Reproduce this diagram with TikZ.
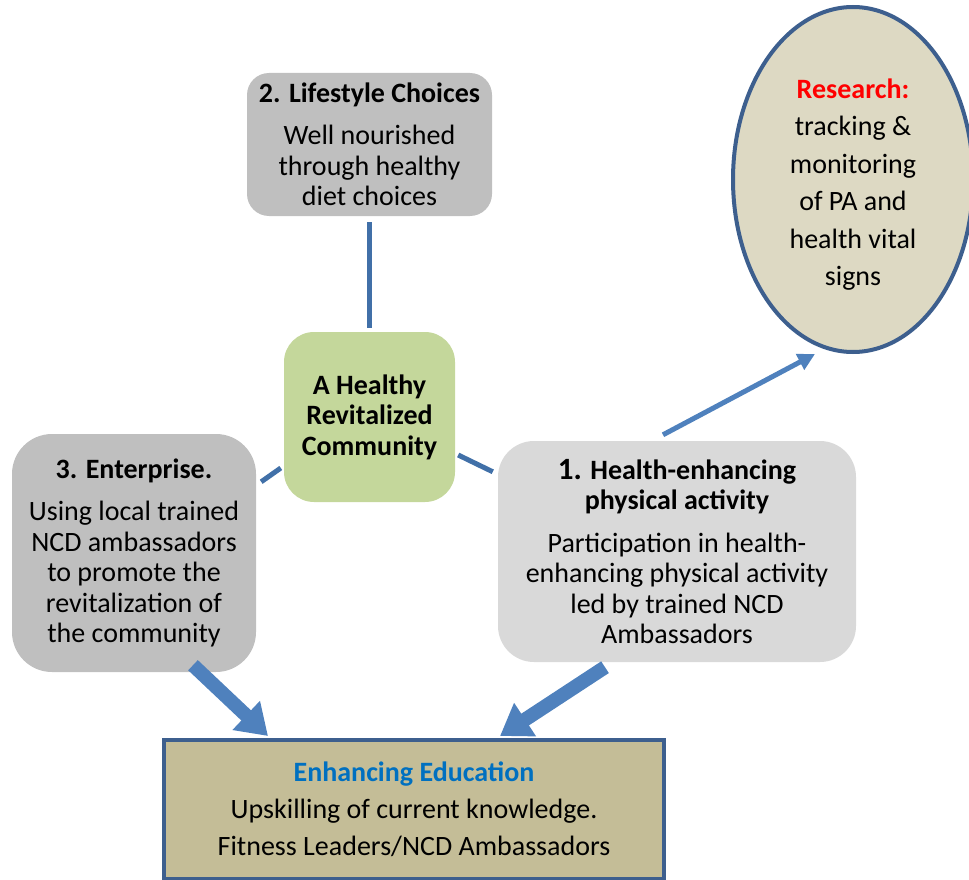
\documentclass[tikz,border=0pt]{standalone}
\usepackage{fontspec}
\setmainfont{Carlito}
\usetikzlibrary{arrows.meta,shapes.geometric}
\definecolor{linkblue}{HTML}{4170A8}
\definecolor{arrowblue}{HTML}{4F81BD}
\definecolor{edgeblue}{HTML}{3D5F8E}
\definecolor{boxgray}{HTML}{BFBFBF}
\definecolor{lightgray}{HTML}{D9D9D9}
\definecolor{hubgreen}{HTML}{C4D79B}
\definecolor{resbeige}{HTML}{DDD9C3}
\definecolor{edutan}{HTML}{C4BD97}
\definecolor{titleblue}{HTML}{0070C0}
\tikzset{
  card/.style={rounded corners=#1, align=center, inner sep=0pt,
    font=\fontsize{28}{30.5}\selectfont},
  link/.style={draw=linkblue, line width=5pt},
  thin arrow/.style={draw=arrowblue, line width=5pt,
    -{Triangle[length=17pt,width=17pt]}},
  fat arrow/.style={draw=arrowblue, line width=14pt,
    -{Triangle[length=30pt,width=38pt]}}
}
\begin{document}
\begin{tikzpicture}[x=1pt,y=-1pt]
        \useasboundingbox (0,0) rectangle (969,880);
        \def\gap{12pt}   % space under a title

        \node[card=22pt, fill=boxgray, minimum width=245pt, minimum height=143pt]
            (life) at (369.5,144.5)
            {\textbf{2. Lifestyle Choices}\\[\gap]Well nourished\\through healthy\\diet choices};
        \node[card=30pt, fill=hubgreen, minimum width=171pt, minimum height=170pt]
            (hub) at (369.5,417)
            {\textbf{A Healthy}\\\textbf{Revitalized}\\\textbf{Community}};
        \node[card=40pt, fill=boxgray, minimum width=244pt, minimum height=238pt]
            (ent) at (134,553)
            {\textbf{3. Enterprise.}\\[\gap]Using local trained\\NCD ambassadors\\to promote the\\revitalization of\\the community};
        \node[card=36pt, fill=lightgray, minimum width=358pt, minimum height=221pt]
            (pa) at (677,551.5)
            {\textbf{{\fontsize{31}{30.5}\selectfont 1.} Health-enhancing}\\\textbf{physical activity}\\[\gap]Participation in health-\\enhancing physical activity\\led by trained NCD\\Ambassadors};
        \node[ellipse, draw=edgeblue, line width=4pt, fill=resbeige,
            minimum width=240pt, minimum height=345pt, align=center, inner sep=0pt,
            font=\fontsize{28}{37.4}\selectfont]
            (res) at (853,179.5)
            {\rule{0pt}{30pt}\textcolor{red}{\textbf{Research:}}\\tracking \&\\monitoring\\of PA and\\health vital\\signs};
        \node[draw=edgeblue, line width=4pt, fill=edutan, minimum width=500pt,
            minimum height=139pt, align=center, inner sep=0pt,
            font=\fontsize{28}{37}\selectfont]
            (edu) at (414,809.5)
            {\textcolor{titleblue}{\textbf{Enhancing Education}}\\Upskilling of current knowledge.\\Fitness Leaders/NCD Ambassadors};

        % links to the hub
        \draw[link] ([yshift=-6pt]life.south) -- ([yshift=4pt]hub.north);
        \draw[link] ([xshift=5pt,yshift=-48pt]ent.north east)
            -- ([xshift=-3pt,yshift=-51pt]hub.west);
        \draw[link] ([xshift=3pt,yshift=-38pt]hub.east)
            -- ([xshift=-5pt,yshift=-31pt]pa.north west);

        % arrows
        \draw[thin arrow] ([xshift=-14pt,yshift=6pt]pa.north) -- ([xshift=-38pt]res.south);
        \draw[fat arrow] ([xshift=59pt,yshift=7pt]ent.south) -- ([xshift=106pt,yshift=2pt]edu.north west);
        \draw[fat arrow] ([xshift=-72pt,yshift=-5pt]pa.south) -- ([xshift=86pt,yshift=2pt]edu.north);
    \end{tikzpicture}
\end{document}
